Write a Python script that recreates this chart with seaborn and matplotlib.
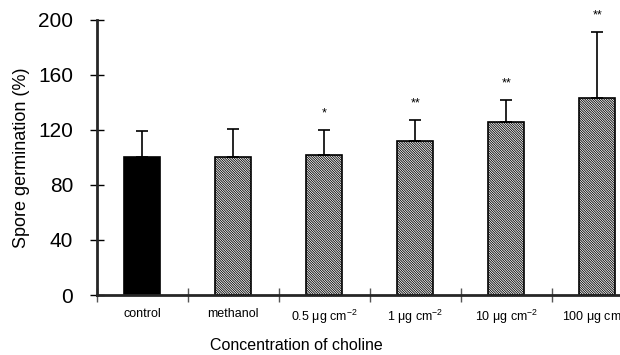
import matplotlib
matplotlib.use("Agg")
import matplotlib.pyplot as plt
import numpy as np
import pandas as pd
import seaborn as sns

# Data
groups = ["control", "methanol", "0.5 μg cm$^{-2}$", "1 μg cm$^{-2}$",
          "10 μg cm$^{-2}$", "100 μg cm$^{-2}$"]
germination = [100, 100, 102, 112, 126, 143]
sd_upper = [19, 21, 18, 15, 16, 48]
signif = ["", "", "*", "**", "**", "**"]

df = pd.DataFrame({"group": groups, "germination": germination})

sns.set_style("ticks")
plt.rcParams["font.family"] = ["Liberation Sans", "DejaVu Sans"]
plt.rcParams["mathtext.fontset"] = "custom"
plt.rcParams["mathtext.rm"] = "Liberation Sans"
plt.rcParams["mathtext.it"] = "Liberation Sans:italic"
plt.rcParams["hatch.linewidth"] = 0.6
plt.rcParams["text.color"] = "black"
plt.rcParams["xtick.color"] = "black"
plt.rcParams["ytick.color"] = "black"
plt.rcParams["axes.labelcolor"] = "black"

fig = plt.figure(figsize=(6.2, 3.55), dpi=100)
ax = fig.add_axes([0.156, 0.169, 0.844, 0.775])

sns.barplot(data=df, x="group", y="germination", width=0.4,
            color="white", edgecolor="black", linewidth=1.2, ax=ax)

for i, bar in enumerate(ax.patches):
    if i == 0:
        bar.set_facecolor("black")
    else:
        bar.set_facecolor("white")
        bar.set_hatch("\\" * 14)

x = np.arange(len(groups))
ax.errorbar(x, germination, yerr=[np.zeros(len(groups)), sd_upper],
            fmt="none", ecolor="black", elinewidth=1.2, capsize=4,
            capthick=1.2, zorder=1)

for xi, top, s in zip(x, np.array(germination) + np.array(sd_upper), signif):
    if s:
        ax.text(xi, top + 12, s, ha="center", va="center", fontsize=9,
                clip_on=False)

ax.set_xlim(-0.5, 5.25)
ax.set_ylim(0, 200)
ax.set_yticks([0, 40, 80, 120, 160, 200])

ax.set_xticks(x)
ax.set_xticklabels(groups, fontsize=9)
ax.tick_params(axis="x", which="major", length=0, pad=9)
ax.set_xticks(np.arange(-0.5, 5.5, 1.0), minor=True)
ax.tick_params(axis="x", which="minor", direction="inout", length=10,
               width=1.0, color="#555555")
ax.tick_params(axis="y", direction="inout", length=10, width=1.0,
               labelsize=15, pad=12)

ax.spines["top"].set_visible(False)
ax.spines["right"].set_visible(False)
ax.spines["left"].set_linewidth(2)
ax.spines["bottom"].set_linewidth(2)

ax.set_xlabel("Concentration of choline", fontsize=11.5, labelpad=8)
ax.xaxis.set_label_coords(0.382, -0.155)
ax.set_ylabel("Spore germination (%)", fontsize=13, labelpad=6)

plt.savefig("out.png", dpi=100)
